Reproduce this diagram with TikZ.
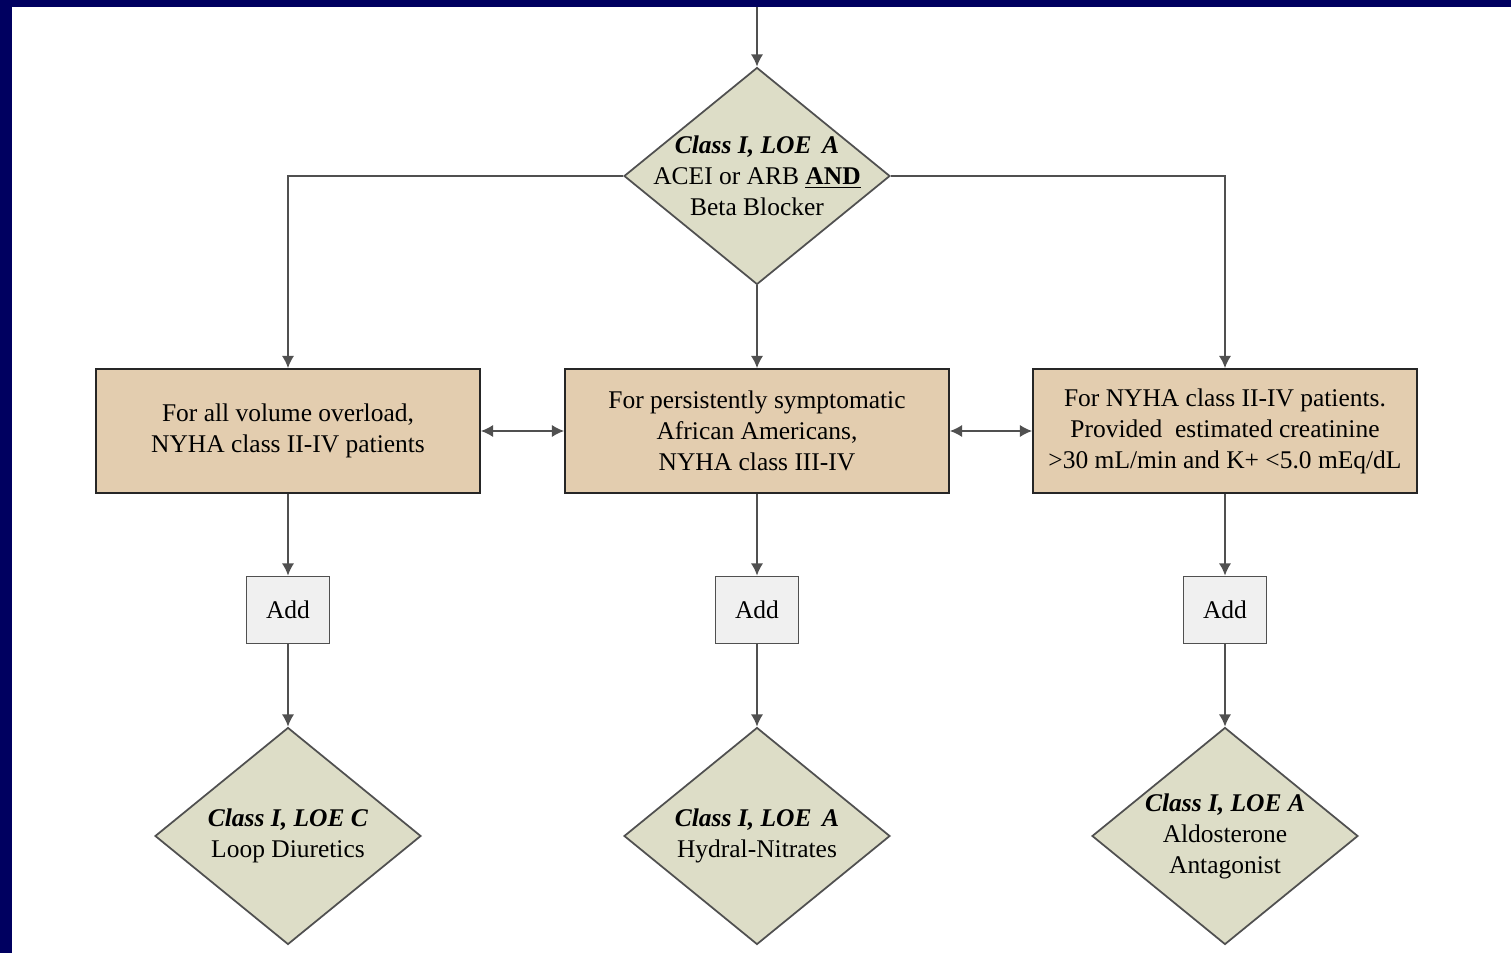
\documentclass[tikz,border=0pt]{standalone}
\usepackage{fontspec}
\setmainfont{Liberation Serif}
\usetikzlibrary{shapes.geometric,arrows.meta}
\definecolor{navy}{RGB}{0,0,96}
\definecolor{tan}{RGB}{227,205,175}
\definecolor{sage}{RGB}{221,221,199}
\definecolor{addgray}{RGB}{240,240,240}
\definecolor{linegray}{RGB}{80,80,80}
\begin{document}
\begin{tikzpicture}[x=0.02cm,y=-0.02cm]
\def\colL{288}
\def\colM{757}
\def\colR{1225}
\tikzset{base/.style={draw=linegray,line width=1pt,align=center,inner sep=0pt,
  font=\fontsize{14.5}{17.6}\selectfont},
dec/.style={base,diamond,aspect=1.226,inner sep=-0.3cm,fill=sage,minimum width=5.32cm,minimum height=4.34cm},
cond/.style={base,fill=tan,draw=black!85,minimum width=7.68cm,minimum height=2.48cm},
addbox/.style={base,fill=addgray,minimum width=1.66cm,minimum height=1.34cm},
every path/.style={>={Latex[length=7pt,width=7pt]}},
link/.style={draw=linegray,line width=1pt}}
\useasboundingbox (0,0) rectangle (1511,953);
\fill[navy] (0,0) rectangle (12,953);
\fill[navy] (0,0) rectangle (1511,7);
\coordinate (in) at (\colM,7);
\node[dec] at (\colM,176) (D0) {\textbf{\textit{Class I, LOE\, A}}\\ACEI or ARB \underline{\textbf{AND}}\\Beta Blocker};
\node[cond] at (\colL,431) (BL) {For all volume overload,\\NYHA class II-IV patients};
\node[cond] at (\colM,431) (BM) {For persistently symptomatic\\African Americans,\\NYHA class III-IV};
\node[cond] at (\colR,431) (BR) {For NYHA class II-IV patients.\\Provided~ estimated creatinine\\>30 mL/min and K+ <5.0 mEq/dL};
\node[addbox] at (\colL,610) (AL) {Add};
\node[addbox] at (\colM,610) (AM) {Add};
\node[addbox] at (\colR,610) (AR) {Add};
\node[dec] at (\colL,836) (DL) {\textbf{\textit{Class I, LOE C}}\\Loop Diuretics};
\node[dec] at (\colM,836) (DM) {\textbf{\textit{Class I, LOE\, A}}\\Hydral-Nitrates};
\node[dec] at (\colR,836) (DR) {\textbf{\textit{Class I, LOE A}}\\Aldosterone\\Antagonist};
\path[link,->] (in) -- (D0.north);
\path[link,->] (D0.west) -| (BL.north);
\path[link,->] (D0.south) -- (BM.north);
\path[link,->] (D0.east) -| (BR.north);
\path[link,<->] (BL.east) -- (BM.west);
\path[link,<->] (BM.east) -- (BR.west);
\path[link,->] (BL.south) -- (AL.north);
\path[link,->] (BM.south) -- (AM.north);
\path[link,->] (BR.south) -- (AR.north);
\path[link,->] (AL.south) -- (DL.north);
\path[link,->] (AM.south) -- (DM.north);
\path[link,->] (AR.south) -- (DR.north);
\end{tikzpicture}
\end{document}
